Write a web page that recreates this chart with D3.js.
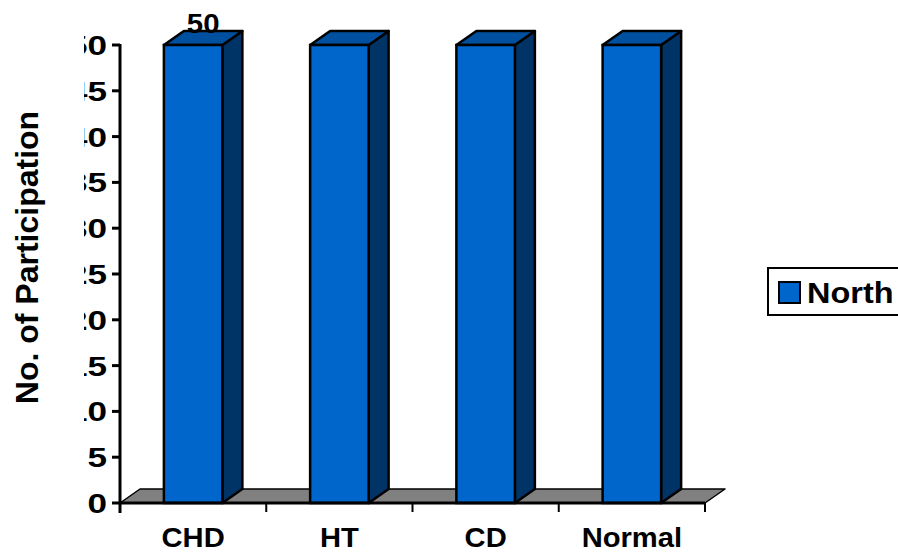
<!DOCTYPE html>
<html lang="en">

<head>
    <meta charset="utf-8">
    <title>participation bars</title>
    <script src="https://d3js.org/d3.v7.min.js"></script>
    <style>
        body {
            margin: 0;
            background: #fff;
        }

        text {
            font-family: Arial, 'Liberation Sans', sans-serif;
            font-weight: bold;
            fill: #000;
        }
    </style>
</head>

<body>
    <script>
        var categories = ['CHD', 'HT', 'CD', 'Normal'];
        var north = [50, 50, 50, 50];
        var yTicks = [0, 5, 10, 15, 20, 25, 30, 35, 40, 45, 50];
        var labelled = ['CHD'];   // only the first bar carries a value label

        var svgWidth = 898, svgHeight = 554;
        var depthX = 20, depthY = 14;

        var svg = d3.select('body')
            .append('svg')
            .attr('width', svgWidth)
            .attr('height', svgHeight);

        var x = d3.scaleBand()
            .domain(categories)
            .range([120, 705])
            .paddingInner(0.6)
            .paddingOuter(0.3);

        var y = d3.scaleLinear()
            .domain([0, 50])
            .range([503, 45]);

        var y0 = y(0);
        var left = x.range()[0], right = x.range()[1];

        // text in the original is a bit wider than Liberation Sans
        function wideText(g, px, py, sx) {
            return g.append('g')
                .attr('transform', `translate(${px},${py}) scale(${sx},1)`)
                .append('text');
        }

        // floor
        svg.append('path')
            .attr('d', `M${left},${y0} L${right},${y0} L${right + depthX},${y0 - depthY} L${left + depthX},${y0 - depthY} Z`)
            .style('fill', '#808080')
            .style('stroke', '#000')
            .style('stroke-width', 1.5)
            .style('stroke-linejoin', 'round');

        // bars
        var bars = svg.append('g')
            .selectAll('g')
            .data(categories)
            .enter().append('g');

        bars.append('path')   // side
            .attr('d', (d, i) => {
                var x1 = x(d) + x.bandwidth(), yt = y(north[i]);
                return `M${x1},${y0} L${x1 + depthX},${y0 - depthY} L${x1 + depthX},${yt - depthY} L${x1},${yt} Z`;
            })
            .style('fill', '#003366')
            .style('stroke', '#000')
            .style('stroke-width', 2.5)
            .style('stroke-linejoin', 'round');

        bars.append('path')   // top
            .attr('d', (d, i) => {
                var x0 = x(d), x1 = x0 + x.bandwidth(), yt = y(north[i]);
                return `M${x0},${yt} L${x1},${yt} L${x1 + depthX},${yt - depthY} L${x0 + depthX},${yt - depthY} Z`;
            })
            .style('fill', '#0050A0')
            .style('stroke', '#000')
            .style('stroke-width', 2.5)
            .style('stroke-linejoin', 'round');

        bars.append('rect')   // front
            .attr('x', d => x(d))
            .attr('y', (d, i) => y(north[i]))
            .attr('width', x.bandwidth())
            .attr('height', (d, i) => y0 - y(north[i]))
            .style('fill', '#0066CC')
            .style('stroke', '#000')
            .style('stroke-width', 2.5);

        // value label
        categories.forEach((c, i) => {
            if (labelled.indexOf(c) < 0) return;
            wideText(svg, x(c) + x.bandwidth() / 2 + depthX / 2, y(north[i]) - 12, 1.05)
                .attr('text-anchor', 'middle')
                .style('font-size', '28px')
                .text(north[i]);
        });

        // y axis
        var yAxis = svg.append('g');
        yAxis.append('line')
            .attr('x1', left).attr('x2', left)
            .attr('y1', y(50) - 1).attr('y2', y0 + 10)
            .style('stroke', '#000')
            .style('stroke-width', 3);
        yAxis.selectAll('line.tick')
            .data(yTicks)
            .enter().append('line')
            .attr('class', 'tick')
            .attr('x1', left - 8).attr('x2', left)
            .attr('y1', d => y(d)).attr('y2', d => y(d))
            .style('stroke', '#000')
            .style('stroke-width', 3);

        // tick labels are cut off on the left in the original
        svg.append('clipPath')
            .attr('id', 'tickclip')
            .append('rect')
            .attr('x', 84).attr('y', 0)
            .attr('width', 40).attr('height', svgHeight);

        var tickLabels = yAxis.append('g')
            .attr('clip-path', 'url(#tickclip)');
        yTicks.forEach(t => {
            wideText(tickLabels, 107, y(t) + 10, 1.3)
                .attr('text-anchor', 'end')
                .style('font-size', '27px')
                .text(t);
        });

        // x axis
        svg.append('line')
            .attr('x1', left).attr('x2', right)
            .attr('y1', y0).attr('y2', y0)
            .style('stroke', '#000')
            .style('stroke-width', 3);

        var edges = [left].concat(categories.map(c => x(c) + x.bandwidth() + x.step() * x.paddingInner() / 2));
        svg.append('g')
            .selectAll('line')
            .data(edges)
            .enter().append('line')
            .attr('x1', d => d).attr('x2', d => d)
            .attr('y1', y0).attr('y2', y0 + 9)
            .style('stroke', '#000')
            .style('stroke-width', 2);

        categories.forEach(c => {
            wideText(svg, x(c) + x.bandwidth() / 2, 547, 1.08)
                .attr('text-anchor', 'middle')
                .style('font-size', '27px')
                .text(c);
        });

        // y title
        svg.append('text')
            .attr('transform', 'translate(38, 257.5) rotate(-90)')
            .attr('text-anchor', 'middle')
            .style('font-size', '32px')
            .text('No. of Participation');

        // legend
        var legend = svg.append('g');
        legend.append('rect')
            .attr('x', 768).attr('y', 268)
            .attr('width', 160).attr('height', 47)
            .style('fill', '#fff')
            .style('stroke', '#000')
            .style('stroke-width', 2);
        legend.append('rect')
            .attr('x', 779).attr('y', 282)
            .attr('width', 21).attr('height', 21)
            .style('fill', '#0066CC')
            .style('stroke', '#000')
            .style('stroke-width', 2);
        wideText(legend, 807, 303, 1.12)
            .style('font-size', '29px')
            .text('North');
    </script>
</body>

</html>
